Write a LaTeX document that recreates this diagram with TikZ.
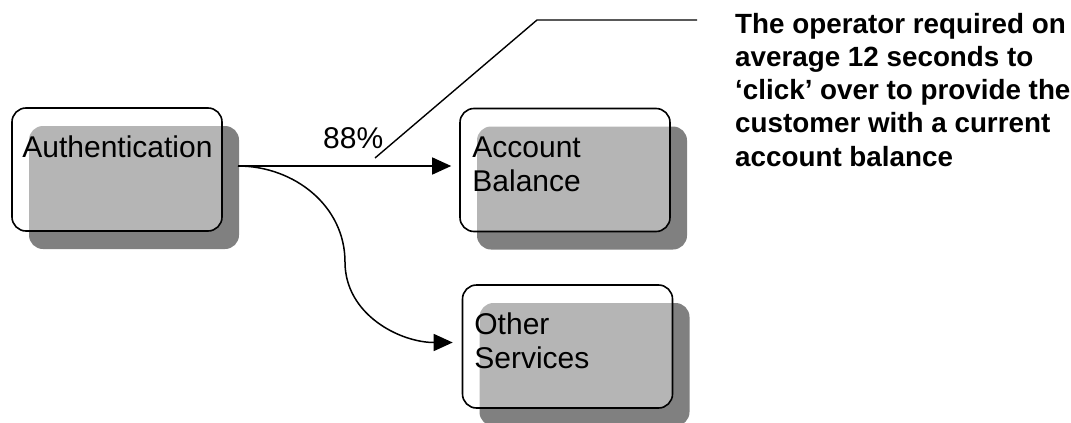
\documentclass[tikz,border=0pt]{standalone}
\usepackage{fontspec}
\setmainfont{Liberation Sans}
\usetikzlibrary{arrows.meta, shadows}

\definecolor{shadowgray}{RGB}{128,128,128}

\begin{document}
\begin{tikzpicture}[
x=1pt, y=1pt,
box/.style={rectangle, draw, line width=1.6pt, rounded corners=14pt, minimum width=210pt, minimum height=123pt, inner sep=0pt, fill=white, fill opacity=0.42, drop shadow={shadow xshift=17pt, shadow yshift=-18pt, fill=shadowgray, opacity=1, fill opacity=1}},
boxtext/.style={anchor=north west, inner sep=0pt, align=left, font=\fontsize{30}{34}\selectfont},
note/.style={anchor=north west, inner sep=0pt, align=left, font=\fontsize{27.8}{33.3}\selectfont\bfseries},
arrow/.style={-{Triangle[length=19pt, width=17pt]}, line width=1.5pt}
]

\useasboundingbox (0,0) rectangle (1071,-423);

\node[box] (auth) at (117,-169.5) {};
\node[box] (balance) at (565,-170) {};
\node[box] (other) at (567.5,-346.5) {};

\node[boxtext] (auth-txt) at ([shift={(11pt,-28.5pt)}]auth.north west) {Authentication};
\node[boxtext] (balance-txt) at ([shift={(13pt,-28.5pt)}]balance.north west) {Account\\Balance};
\node[boxtext] (other-txt) at ([shift={(12.5pt,-28.5pt)}]other.north west) {Other\\Services};

\coordinate (fork) at (238,-166);
\coordinate (bend) at (345,-262);
\draw[arrow] (fork) -- ([xshift=-8pt]balance.west |- fork);
\draw[arrow] (fork) to[out=0, in=90] (bend) to[out=-90, in=180] ([shift={(-9pt,4pt)}]other.west);

\node[anchor=base west, inner sep=0pt, font=\fontsize{30}{34}\selectfont] (pct) at (323,-148) {88\%};

% callout
\coordinate (c1) at (375,-158);
\coordinate (c2) at (537,-20);
\coordinate (c3) at (697,-20);
\draw[line width=1.4pt] (c1) -- (c2) -- (c3);

\node[note] (remark) at (735,-12.7) {The operator required on\\average 12 seconds to\\`click' over to provide the\\customer with a current\\account balance};

\end{tikzpicture}
\end{document}
